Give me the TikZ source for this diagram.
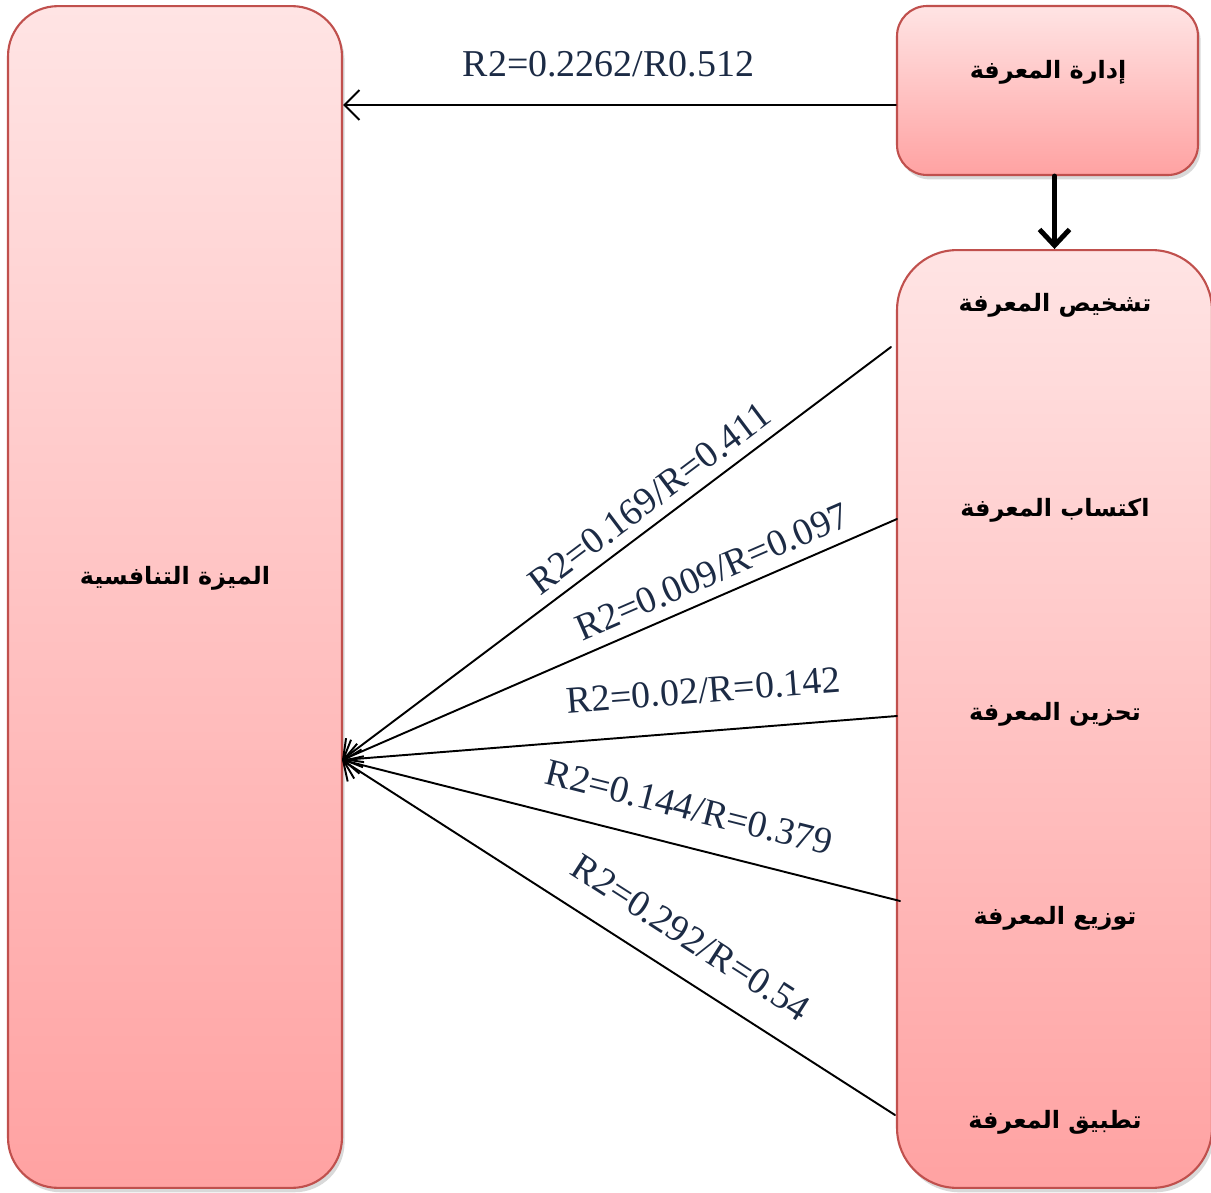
\documentclass[tikz,border=0pt]{standalone}
\usepackage{fontspec}
\setmainfont{Liberation Serif}
\newfontfamily\arabicfont[Script=Arabic]{DejaVu Sans}
\TeXXeTstate=1
\usetikzlibrary{arrows.meta,shadows}
\definecolor{boxtop}{HTML}{FFE4E4}
\definecolor{boxbot}{HTML}{FFA2A2}
\definecolor{boxline}{HTML}{C0504D}
\definecolor{lblblue}{HTML}{1C2B45}

\begin{document}
\begin{tikzpicture}[x=0.02cm,y=-0.02cm,>={Straight Barb[length=3mm,width=6mm]},line cap=round,
  box/.style={draw=boxline,line width=1.2pt,top color=boxtop,bottom color=boxbot,
    drop shadow={shadow xshift=1.5pt,shadow yshift=-2.5pt,opacity=0.3}},
  lbl/.style={text=lblblue,font=\fontsize{21.6}{24}\selectfont},
  ar/.style={font=\arabicfont\bfseries\fontsize{13.6}{16}\selectfont}]
\useasboundingbox (0,0) rectangle (1211,1193);
\node[box,rounded corners=1cm,minimum width=6.68cm,minimum height=23.64cm] (adv) at (175,597) {};
\node[box,rounded corners=0.6cm,minimum width=6.02cm,minimum height=3.38cm] (km) at (1047.5,90.5) {};
\node[box,rounded corners=1.2cm,minimum width=6.3cm,minimum height=18.76cm] (dims) at (1054.5,719) {};
\node[ar] (advtxt) at (175,578) {\beginR الميزة التنافسية\endR};
\node[ar] (kmtxt) at (1048,72) {\beginR إدارة المعرفة\endR};
\node[ar] (d1) at (1055,305) {\beginR تشخيص المعرفة\endR};
\node[ar] (d2) at (1055,510) {\beginR اكتساب المعرفة\endR};
\node[ar] (d3) at (1055,714) {\beginR تحزين المعرفة\endR};
\node[ar] (d4) at (1055,918) {\beginR توزيع المعرفة\endR};
\node[ar] (d5) at (1055,1122) {\beginR تطبيق المعرفة\endR};
\coordinate (toprow) at (0,105);
\coordinate (hub) at (342,760);
\coordinate (s1) at (891,347);
\coordinate (s2) at (897,519);
\coordinate (s3) at (897,716);
\coordinate (s4) at (900,901);
\coordinate (s5) at (895,1115);
\draw[->,line width=1.1pt] (km.west |- toprow) -- (adv.east |- toprow)
  node[lbl,pos=0.52,above=12pt]{R2=0.2262/R0.512};
\draw[->,line width=2.8pt,>={Straight Barb[length=3.2mm,width=6mm]}] (km.south -| dims.north) -- (dims.north);
\draw[<-,line width=1.1pt] (hub) -- (s1) node[lbl,pos=0.587,sloped,above=2.5pt]{R2=0.169/R=0.411};
\draw[<-,line width=1.1pt] (hub) -- (s2) node[lbl,pos=0.685,sloped,above=3pt]{R2=0.009/R=0.097};
\draw[<-,line width=1.1pt] (hub) -- (s3) node[lbl,pos=0.657,sloped,above=12pt]{R2=0.02/R=0.142};
\draw[<-,line width=1.1pt] (hub) -- (s4) node[lbl,pos=0.605,sloped,above=11pt]{R2=0.144/R=0.379};
\draw[<-,line width=1.1pt] (hub) -- (s5) node[lbl,pos=0.593,sloped,above=11pt]{R2=0.292/R=0.54};
\end{tikzpicture}
\end{document}
